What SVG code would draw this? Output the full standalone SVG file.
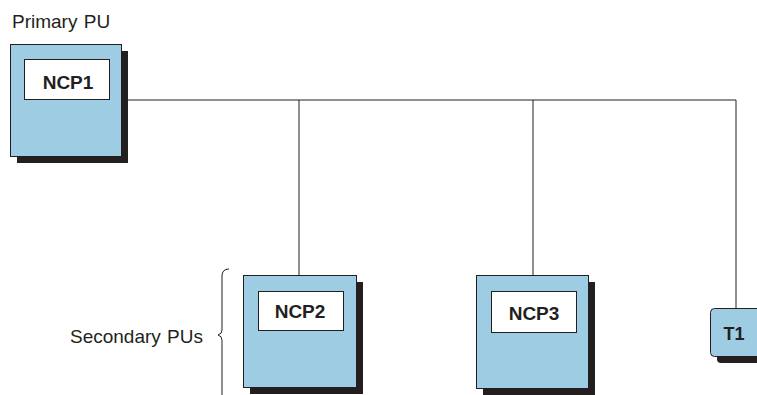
<svg xmlns="http://www.w3.org/2000/svg" width="757" height="395" viewBox="0 0 757 395">
<style>
.box{fill:#9ecde3;stroke:#231f20;stroke-width:1}
.shadow{fill:#231f20}
.inner{fill:#ffffff;stroke:#231f20;stroke-width:1}
.lbl{font-family:"Liberation Sans",Arial,sans-serif;font-weight:bold;font-size:19px;fill:#231f20;text-anchor:middle}
.txt{font-family:"Liberation Sans",Arial,sans-serif;font-size:19px;fill:#231f20;word-spacing:1px}
.line{fill:none;stroke:#231f20;stroke-width:1}
</style>
<rect width="757" height="395" fill="#ffffff"/>
<text class="txt" x="12" y="28">Primary PU</text>
<text class="txt" x="70" y="343">Secondary PUs</text>
<path class="line" d="M229,269 Q222,269 222,276 L222,330 Q222,334 218,335 Q222,336 222,340 L222,395"/>
<g id="connectors">
<path class="line" d="M122,100 L736,100 L736,308"/>
<path class="line" d="M299,100 L299,275"/>
<path class="line" d="M533,100 L533,275"/>
</g>
<g id="ncp1">
<rect class="shadow" x="17" y="51" width="111" height="112"/>
<rect class="box" x="10.5" y="44.5" width="111" height="112"/>
<rect class="inner" x="24.5" y="59.5" width="85" height="40"/>
<text class="lbl" x="68" y="89">NCP1</text>
</g>
<g id="ncp2">
<rect class="shadow" x="250" y="282" width="113" height="112"/>
<rect class="box" x="243.5" y="275.5" width="113" height="112"/>
<rect class="inner" x="258.5" y="291.5" width="85" height="39"/>
<text class="lbl" x="300" y="318">NCP2</text>
</g>
<g id="ncp3">
<rect class="shadow" x="483" y="282" width="112" height="113"/>
<rect class="box" x="476.5" y="275.5" width="112" height="113"/>
<rect class="inner" x="491.5" y="291.5" width="85" height="41"/>
<text class="lbl" x="534" y="320">NCP3</text>
</g>
<g id="t1">
<rect class="shadow" x="717" y="314" width="60" height="49" rx="4"/>
<rect class="box" x="710.5" y="308.5" width="60" height="48" rx="4"/>
<text class="lbl" x="734" y="340" style="font-size:18px">T1</text>
</g>
</svg>
